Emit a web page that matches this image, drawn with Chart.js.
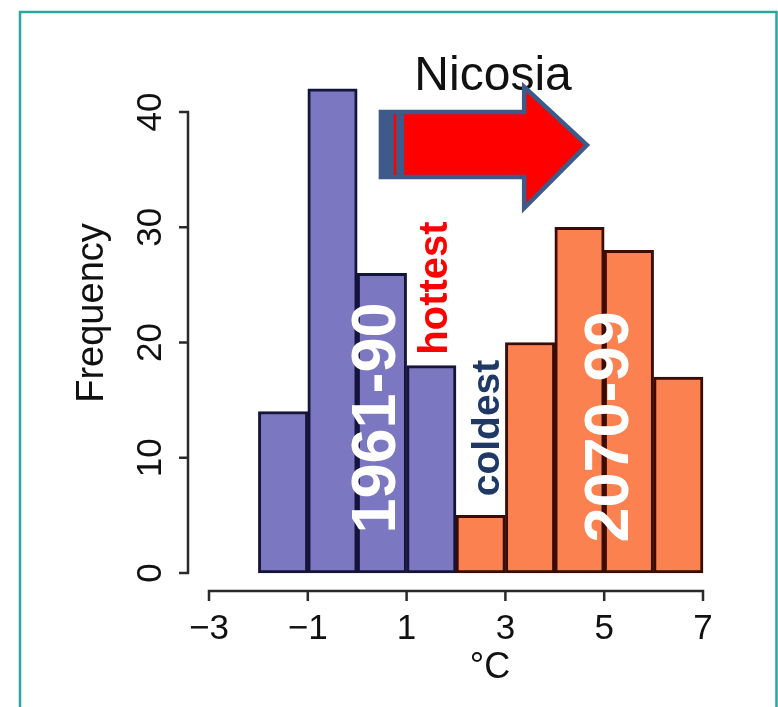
<!DOCTYPE html>
<html>
<head>
<meta charset="utf-8">
<script src="https://cdn.jsdelivr.net/npm/chart.js@4.4.1/dist/chart.umd.min.js"></script>
<style>
  html, body { margin: 0; padding: 0; background: #ffffff; }
  #wrap { width: 778px; height: 707px; }
</style>
</head>
<body>
<div id="wrap"><canvas id="c" width="778" height="707"></canvas></div>
<script>
// ---- data ----
const bins1961 = [-1.5, -0.5, 0.5, 1.5];          // bin centres (°C), bin width 1
const counts1961 = [14, 42, 26, 18];
const bins2070 = [2.5, 3.5, 4.5, 5.5, 6.5];
const counts2070 = [5, 20, 30, 28, 17];
const xTickValues = [-3, -1, 1, 3, 5, 7];
const xTickLabels = ['\u22123', '\u22121', '1', '3', '5', '7'];
const yTickValues = [0, 10, 20, 30, 40];
const yTickLabels = ['0', '10', '20', '30', '40'];
const titleText = 'Nicosia';
const xTitle = '\u00B0C';
const yTitle = 'Frequency';

const FONT = '"Liberation Sans", Arial, sans-serif';

const overlay = {
  id: 'overlay',
  beforeDraw(chart) {
    const ctx = chart.ctx;
    ctx.save();
    ctx.fillStyle = '#ffffff';
    ctx.fillRect(0, 0, chart.width, chart.height);
    ctx.restore();
  },
  afterDraw(chart) {
    const ctx = chart.ctx;
    const xs = chart.scales.x, ys = chart.scales.y;
    const area = chart.chartArea;
    const X = v => xs.getPixelForValue(v);
    const Y = v => ys.getPixelForValue(v);
    ctx.save();

    // --- R-style detached axes ---
    ctx.strokeStyle = '#2a2a2a';
    ctx.lineWidth = 2.5;
    ctx.lineCap = 'butt';
    const axY = area.bottom + 18;
    ctx.beginPath();
    ctx.moveTo(X(xTickValues[0]), axY);
    ctx.lineTo(X(xTickValues[xTickValues.length - 1]), axY);
    xTickValues.forEach(v => { ctx.moveTo(X(v), axY - 1.2); ctx.lineTo(X(v), axY + 10); });
    ctx.stroke();

    const axX = area.left - 21;
    ctx.beginPath();
    ctx.moveTo(axX, Y(yTickValues[0]));
    ctx.lineTo(axX, Y(yTickValues[yTickValues.length - 1]));
    yTickValues.forEach(v => { ctx.moveTo(axX + 1.2, Y(v)); ctx.lineTo(axX - 9, Y(v)); });
    ctx.stroke();

    // tick labels
    ctx.fillStyle = '#111111';
    ctx.font = '35px ' + FONT;
    ctx.textAlign = 'center';
    ctx.textBaseline = 'alphabetic';
    xTickValues.forEach((v, i) => {
      ctx.fillText(xTickLabels[i], X(v), area.bottom + 53 + 0.358 * 35);
    });
    yTickValues.forEach((v, i) => {
      ctx.save();
      ctx.translate(area.left - 61, Y(v));
      ctx.rotate(-Math.PI / 2);
      ctx.fillText(yTickLabels[i], 0, 0.358 * 35);
      ctx.restore();
    });

    // axis titles
    ctx.font = '38px ' + FONT;
    ctx.save();
    ctx.translate(area.left - 117, 313);
    ctx.rotate(-Math.PI / 2);
    ctx.fillText(yTitle, 0, 0.3 * 38);
    ctx.restore();
    ctx.font = '36px ' + FONT;
    ctx.fillText(xTitle, 490, 665 + 0.358 * 36);

    // title
    ctx.font = '48px ' + FONT;
    ctx.fillStyle = '#111111';
    ctx.fillText(titleText, X(2.75), Y(41.91));

    // --- arrow ---
    const aL = X(0.48), aB = X(3.38), aT = X(4.65);
    const bTop = Y(40.0), bBot = Y(34.36), hTop = Y(42.17), hBot = Y(31.67), tipY = Y(37.14);
    ctx.beginPath();
    ctx.moveTo(aL, bTop);
    ctx.lineTo(aB, bTop);
    ctx.lineTo(aB, hTop);
    ctx.lineTo(aT, tipY);
    ctx.lineTo(aB, hBot);
    ctx.lineTo(aB, bBot);
    ctx.lineTo(aL, bBot);
    ctx.closePath();
    ctx.fillStyle = '#ff0000';
    ctx.fill();
    ctx.fillStyle = '#3d5a8a';
    ctx.fillRect(aL, bTop, X(0.95) - aL, bBot - bTop);
    ctx.fillStyle = '#ff0000';
    ctx.fillRect(X(0.74), bTop + 2, 2.5, bBot - bTop - 4);
    ctx.strokeStyle = '#3d5a8a';
    ctx.lineWidth = 4.5;
    ctx.lineJoin = 'miter';
    ctx.stroke();

    // --- period / extreme labels ---
    function vtext(txt, cxv, cyv, size, color, capFrac) {
      ctx.save();
      ctx.translate(X(cxv), Y(cyv));
      ctx.rotate(-Math.PI / 2);
      ctx.font = 'bold ' + size + 'px ' + FONT;
      ctx.fillStyle = color;
      ctx.textAlign = 'center';
      ctx.textBaseline = 'alphabetic';
      ctx.fillText(txt, 0, capFrac * size);
      ctx.restore();
    }
    vtext('1961-90', 0.31, 13.45, 63, '#ffffff', 0.358);
    vtext('2070-99', 5.03, 12.67, 63, '#ffffff', 0.358);
    vtext('hottest', 1.52, 24.73, 40, '#ff0000', 0.365);
    vtext('coldest', 2.58, 12.58, 39, '#1f3864', 0.365);

    // --- frame ---
    ctx.strokeStyle = '#2aa8a0';
    ctx.lineWidth = 2.5;
    ctx.beginPath();
    ctx.moveTo(20, 720);
    ctx.lineTo(20, 12);
    ctx.lineTo(776.5, 12);
    ctx.lineTo(776.5, 720);
    ctx.stroke();

    ctx.restore();
  }
};

new Chart(document.getElementById('c'), {
  type: 'bar',
  data: {
    datasets: [
      {
        label: '1961-90',
        data: bins1961.map((x, i) => ({ x: x, y: counts1961[i] })),
        backgroundColor: '#7b78c1',
        borderColor: '#15143a',
        borderWidth: 3,
        borderSkipped: false,
        grouped: false,
        barPercentage: 1,
        categoryPercentage: 1,
        clip: false
      },
      {
        label: '2070-99',
        data: bins2070.map((x, i) => ({ x: x, y: counts2070[i] })),
        backgroundColor: '#fb8150',
        borderColor: '#3a0c04',
        borderWidth: 3,
        borderSkipped: false,
        grouped: false,
        barPercentage: 1,
        categoryPercentage: 1,
        clip: false
      }
    ]
  },
  options: {
    responsive: false,
    animation: false,
    devicePixelRatio: 1,
    layout: { padding: { left: 209, right: 75, top: 112, bottom: 134 } },
    plugins: { legend: { display: false }, tooltip: { enabled: false }, title: { display: false } },
    scales: {
      x: { type: 'linear', min: -3, max: 7, offset: false, display: false },
      y: { type: 'linear', min: 0, max: 40, display: false }
    }
  },
  plugins: [overlay]
});
</script>
</body>
</html>
